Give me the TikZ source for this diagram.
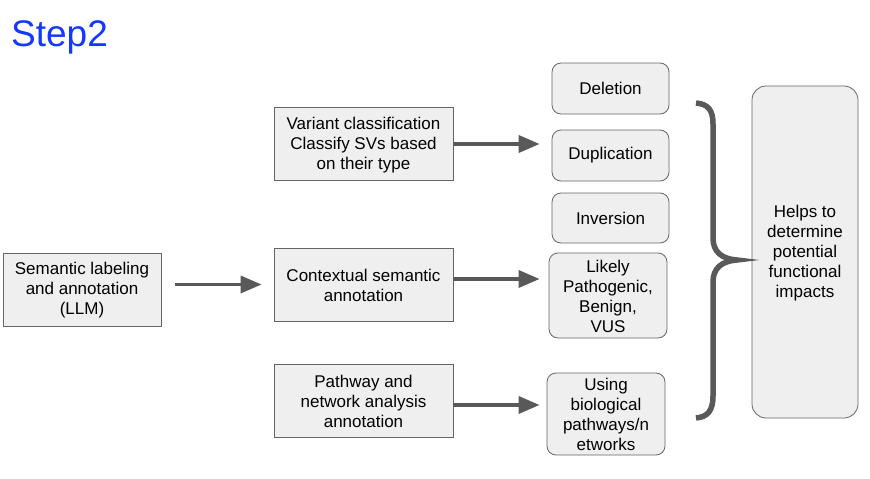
\documentclass[tikz,border=0pt]{standalone}
\usepackage{fontspec}
\setmainfont{Liberation Sans}
\usetikzlibrary{arrows.meta}
\definecolor{boxfill}{HTML}{EFEFEF}
\definecolor{boxdraw}{HTML}{666666}
\definecolor{arrcol}{HTML}{595959}
\definecolor{titleblue}{HTML}{1438FF}
\begin{document}
\begin{tikzpicture}[x=1pt,y=-1pt,
  sqbox/.style={draw=boxdraw,fill=boxfill,line width=0.8pt,align=center,inner sep=0pt,
    font=\fontsize{17}{20}\selectfont},
  rbox/.style={sqbox,rounded corners=9pt},
  arr/.style={draw=arrcol,line width=3.5pt,-{Triangle[length=21pt,width=17pt]}},
  bracestyle/.style={draw=arrcol,line width=5.5pt}]
\useasboundingbox[fill=white] (0,0) rectangle (870,479);
\node[text=titleblue,font=\fontsize{37}{40}\selectfont,anchor=base west,inner sep=0pt] (title) at (11,46) {Step2};
% left
\node[sqbox,minimum width=158pt,minimum height=73pt] (sem) at (82,289.5) {\strut Semantic labeling\\and annotation\\(LLM)};
% middle
\node[sqbox,minimum width=179pt,minimum height=73pt] (var) at (363.5,144) {\strut Variant classification\\Classify SVs based\\on their type};
\node[sqbox,minimum width=179pt,minimum height=73pt] (ctx) at (363.5,284.5) {\strut Contextual semantic\\annotation};
\node[sqbox,minimum width=179pt,minimum height=73pt] (path) at (363.5,400.5) {\strut Pathway and\\network analysis\\annotation};
% right
\node[rbox,minimum width=117pt,minimum height=51pt] (del) at (610.5,88.5) {Deletion};
\node[rbox,minimum width=117pt,minimum height=51pt] (dup) at (610.5,155.5) {Duplication};
\node[rbox,minimum width=117pt,minimum height=50pt] (inv) at (610.5,218) {Inversion};
\node[rbox,minimum width=118pt,minimum height=85pt] (lik) at (608,295.5) {\strut Likely\\Pathogenic,\\Benign,\\VUS};
\node[rbox,minimum width=118pt,minimum height=82pt] (use) at (606,414) {\strut Using\\biological\\pathways/n\\etworks};
\node[rbox,rounded corners=14pt,minimum width=106pt,minimum height=332pt] (help) at (805,252) {\strut Helps to\\determine\\potential\\functional\\impacts};
% arrows
\draw[arr,shorten <=14pt,shorten >=12pt] (sem.east |- ctx.west) -- (ctx.west);
\draw[arr,shorten >=12pt] (var.east) -- (var.east -| dup.west);
\draw[arr,shorten >=9pt] ([yshift=5.5pt]ctx.east) -- ([yshift=5.5pt]ctx.east -| lik.west);
\draw[arr,shorten >=7pt] ([yshift=-4.5pt]path.east) -- ([yshift=-4.5pt]path.east -| use.west);
% brace
\draw[bracestyle] (696,103) .. controls (708,104) and (713,110) .. (713,124)
  -- (713,238) .. controls (713,252) and (722,259) .. (737,260)
  .. controls (722,261) and (713,268) .. (713,282)
  -- (713,396) .. controls (713,410) and (708,417) .. (696,418);
\end{tikzpicture}
\end{document}
